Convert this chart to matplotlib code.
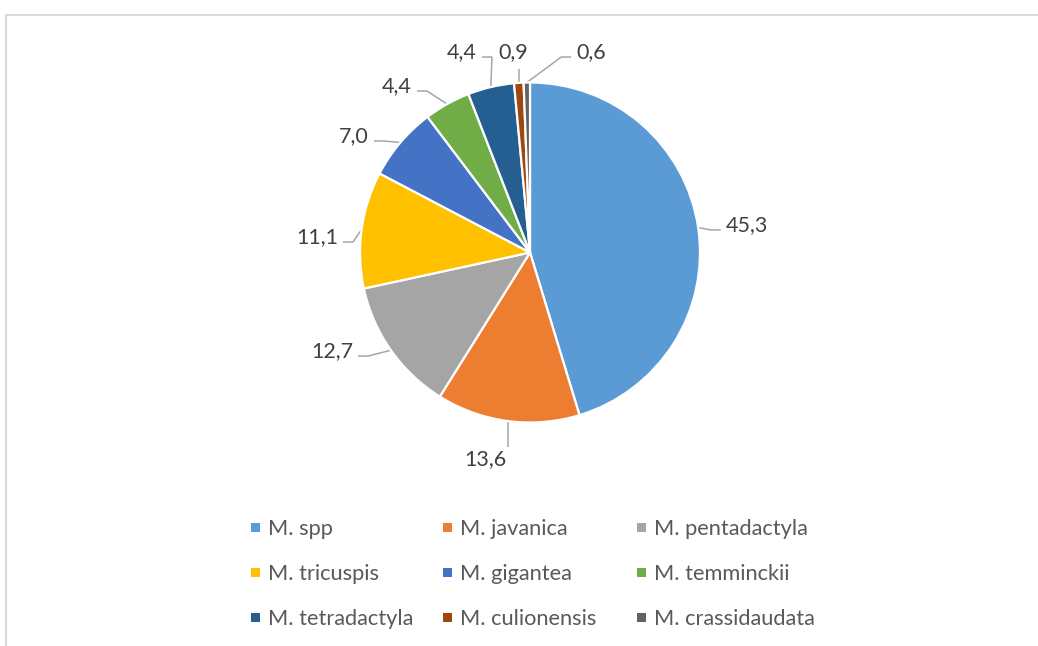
import matplotlib.pyplot as plt
import numpy as np
from matplotlib.lines import Line2D
from matplotlib.patches import Rectangle

species = ["M. spp", "M. javanica", "M. pentadactyla",
           "M. tricuspis", "M. gigantea", "M. temminckii",
           "M. tetradactyla", "M. culionensis", "M. crassidaudata"]
shares = [45.3, 13.6, 12.7, 11.1, 7.0, 4.4, 4.4, 0.9, 0.6]
colors = ["#5B9BD5", "#ED7D31", "#A5A5A5", "#FFC000", "#4472C4",
          "#70AD47", "#255E91", "#9E480E", "#636363"]
value_labels = [f"{v:.1f}".replace(".", ",") for v in shares]

# where each value label sits (baseline), in pie-radius units from the centre
label_x = [1.276, -0.262, -1.165, -1.253, -1.035, -0.782, -0.400, -0.100, 0.359]
label_y = [0.124, -1.253, -0.618, 0.053, 0.647, 0.941, 1.141, 1.141, 1.141]

W, H = 1038, 646
fig = plt.figure(figsize=(W / 100, H / 100), dpi=100)
cx, cy, R = 530, H - 252.5, 170
half = 250
ax = fig.add_axes([(cx - half) / W, (cy - half) / H, 2 * half / W, 2 * half / H])

wedges, _ = ax.pie(shares, colors=colors, startangle=90, counterclock=False,
                   radius=1, wedgeprops=dict(edgecolor="white", linewidth=1.6))
lim = half / R
ax.set_xlim(-lim, lim)
ax.set_ylim(-lim, lim)
ax.set_aspect("equal")
ax.axis("off")

texts = []
for lab, x, y in zip(value_labels, label_x, label_y):
    t = ax.text(x, y, lab, ha="center", va="baseline", fontsize=15.5,
                color="#404040", family="Lato")
    texts.append(t)

fig.canvas.draw()
renderer = fig.canvas.get_renderer()
inv = ax.transData.inverted()
px = 1.0 / R  # one pixel in data units
lead_color = "#A6A6A6"

for w, t, bx, by in zip(wedges, texts, label_x, label_y):
    mid = np.deg2rad((w.theta1 + w.theta2) / 2)
    ex, ey = np.cos(mid), np.sin(mid)
    bb = t.get_window_extent(renderer)
    (x0, y0), (x1, y1) = inv.transform([[bb.x0, bb.y0], [bb.x1, bb.y1]])
    pad = 5 * px
    if x0 - pad <= ex <= x1 + pad:
        if ey > y1:
            ay = y1 + 3 * px
        else:
            ay = y0 - 6 * px
        xs, ys = [ex, ex], [ey, ay]
    else:
        ay = by + 1.5 * px
        if ex < x0:
            ax_ = x0 - pad
            el = ax_ - 10 * px
        else:
            ax_ = x1 + pad
            el = ax_ + 10 * px
        xs, ys = [ex, el, ax_], [ey, ay, ay]
    ax.plot(xs, ys, color=lead_color, lw=1.1, solid_capstyle="butt", zorder=0)

# legend, three equal-width columns like the source
col_x = [251, 443, 637]
row_base = [535, 580, 625]
sq = 9
for i, (name, c) in enumerate(zip(species, colors)):
    mx = col_x[i % 3]
    by = row_base[i // 3]
    fig.patches.append(Rectangle((mx / W, (H - by + 3) / H), sq / W, sq / H,
                                 transform=fig.transFigure, facecolor=c,
                                 edgecolor="none"))
    fig.text((mx + 17) / W, (H - by) / H, name, ha="left", va="baseline",
             fontsize=15.7, color="#595959", family="Lato")

# chart area border (cropped at right and bottom)
border = "#D9D9D9"
fig.add_artist(Line2D([6 / W, 6 / W], [0, (H - 15) / H], color=border, lw=1.5))
fig.add_artist(Line2D([6 / W, 1], [(H - 15) / H, (H - 15) / H], color=border, lw=1.5))

fig.savefig("out.png", dpi=100, facecolor="white")
